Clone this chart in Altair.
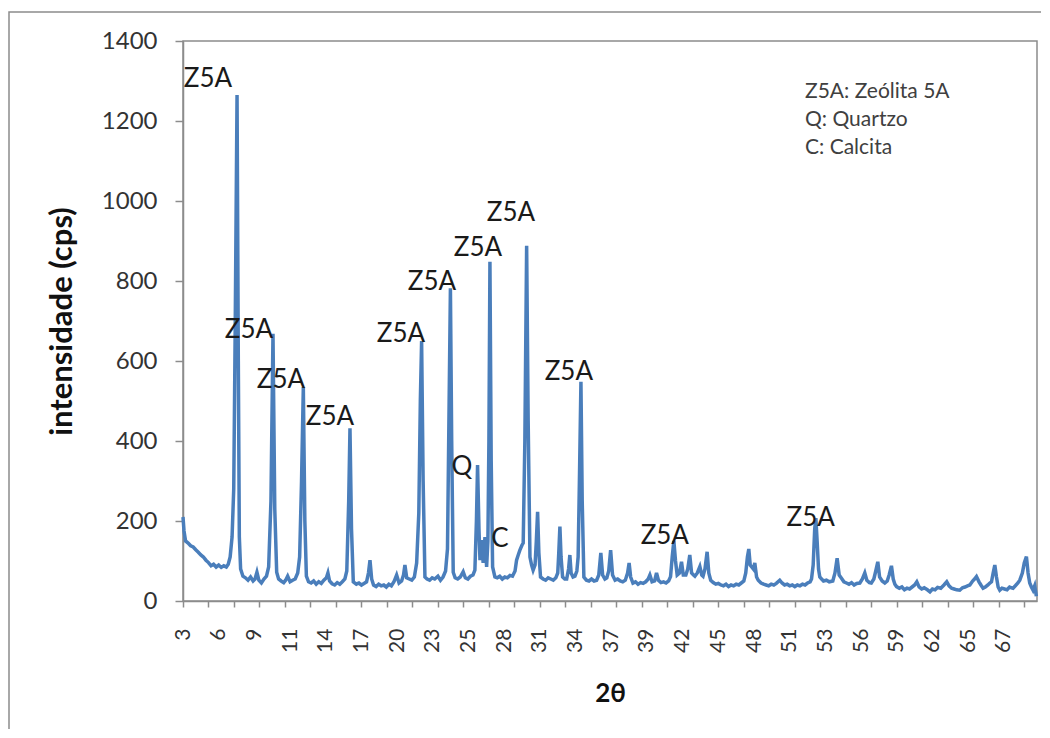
import altair as alt
import pandas as pd

# ---- diffraction pattern (2-theta in degrees, intensity in cps) ----
TWO_THETA = [
    3.00, 3.08, 3.20, 3.40, 3.60, 3.80, 4.00, 4.20, 4.40, 4.60, 4.80, 5.00, 5.20, 5.40, 5.60, 5.80,
    6.00, 6.20, 6.40, 6.55, 6.70, 6.85, 6.98, 7.10, 7.24, 7.34, 7.42, 7.52, 7.70,
    7.90, 8.10, 8.30, 8.50, 8.65, 8.80, 8.95, 9.15, 9.35, 9.55, 9.72, 9.90, 10.06, 10.20, 10.35, 10.50,
    10.70, 10.90, 11.05, 11.21, 11.40, 11.60, 11.80, 12.00, 12.15, 12.30, 12.44, 12.56, 12.68, 12.85,
    13.05, 13.25, 13.45, 13.65, 13.85, 14.05, 14.25, 14.37, 14.50, 14.70, 14.90, 15.10, 15.30, 15.50,
    15.70, 15.85, 16.00, 16.10, 16.22, 16.36,
    16.60, 16.80, 17.00, 17.20, 17.40, 17.55, 17.67, 17.80, 17.95, 18.15, 18.35, 18.55, 18.75, 18.95,
    19.15, 19.35, 19.55, 19.76, 19.95, 20.15, 20.30, 20.41, 20.55, 20.75, 20.95, 21.15, 21.33, 21.50,
    21.62, 21.72, 21.84, 21.98,
    22.15, 22.35, 22.55, 22.75, 23.00, 23.20, 23.40, 23.60, 23.75, 23.88, 23.98, 24.08, 24.20,
    24.35, 24.55, 24.75, 24.98, 25.15, 25.35, 25.55, 25.75, 25.90, 26.02, 26.11, 26.22, 26.30, 26.43,
    26.55, 26.69, 26.82, 26.92, 27.00, 27.08, 27.18, 27.29, 27.47,
    27.65, 27.85, 28.05, 28.25, 28.45, 28.65, 28.85, 29.05, 29.17, 29.30, 29.43, 29.60, 29.69, 29.82,
    29.96, 30.08, 30.22, 30.35, 30.47, 30.62, 30.72, 30.82, 30.92, 31.05,
    31.25, 31.45, 31.65, 31.85, 32.05, 32.25, 32.40, 32.48, 32.57, 32.66, 32.78, 32.95, 33.10, 33.25,
    33.35, 33.45, 33.60, 33.75, 33.90, 34.00, 34.10, 34.22, 34.32, 34.45,
    34.65, 34.85, 35.05, 35.25, 35.45, 35.62, 35.78, 35.92, 36.10, 36.25, 36.40, 36.55, 36.70, 36.90,
    37.10, 37.30, 37.50, 37.70, 37.88, 38.00, 38.12, 38.30, 38.50, 38.70, 38.90, 39.10, 39.30, 39.50,
    39.63, 39.80, 40.00, 40.15, 40.30, 40.50, 40.70, 40.90, 41.10, 41.25, 41.38, 41.51, 41.64, 41.77,
    41.95, 42.11, 42.25, 42.45, 42.60, 42.76, 42.90, 43.05, 43.16, 43.35, 43.55, 43.70, 43.80, 43.95,
    44.12, 44.25, 44.40,
    44.60, 44.80, 45.00, 45.20, 45.40, 45.60, 45.80, 46.00, 46.20, 46.40, 46.60, 46.80, 47.00, 47.15,
    47.28, 47.39, 47.50, 47.60, 47.75, 47.86, 48.00, 48.13,
    48.35, 48.55, 48.75, 48.95, 49.15, 49.35, 49.55, 49.82, 50.00, 50.20, 50.40, 50.60, 50.80, 51.00,
    51.20, 51.40, 51.60, 51.80, 52.00, 52.20, 52.31, 52.44, 52.56, 52.65, 52.75, 52.86, 52.96, 53.10,
    53.25, 53.48, 53.70, 53.98, 54.15, 54.32, 54.48, 54.66, 54.85, 55.05, 55.25, 55.45, 55.65, 55.85,
    56.10, 56.30, 56.49, 56.65, 56.85, 57.00, 57.20, 57.35, 57.51, 57.65, 57.85, 58.06, 58.25, 58.40,
    58.58, 58.72, 58.85, 58.98,
    59.20, 59.40, 59.60, 59.80, 60.00, 60.20, 60.40, 60.57, 60.75, 60.95, 61.15, 61.40, 61.60, 61.80,
    62.00, 62.20, 62.45, 62.70, 62.92, 63.10, 63.30, 63.50, 63.70, 63.94, 64.15, 64.35, 64.55, 64.73,
    64.95, 65.10, 65.25, 65.45, 65.60, 65.77, 65.95, 66.15, 66.30, 66.43, 66.56, 66.69, 66.82, 66.95,
    67.08, 67.25, 67.45, 67.65, 67.85, 68.00, 68.12, 68.30, 68.50, 68.65, 68.85, 69.00, 69.17, 69.30,
    69.43, 69.56, 69.69, 69.82, 69.95,
]
INTENSITY = [
    210, 175, 150, 145, 138, 135, 128, 122, 115, 110, 102, 96, 88, 92, 85, 90,
    84, 88, 85, 92, 110, 160, 280, 700, 1265, 600, 160, 80, 62,
    58, 52, 60, 50, 55, 72, 52, 45, 55, 62, 85, 250, 668, 230, 72, 55,
    50, 46, 52, 62, 48, 52, 55, 70, 110, 300, 535, 200, 62, 48,
    45, 50, 42, 48, 44, 52, 58, 70, 50, 43, 40, 46, 42, 48,
    55, 75, 250, 432, 180, 48,
    42, 45, 40, 44, 48, 70, 102, 55, 40, 36, 42, 38, 40, 35,
    42, 38, 48, 65, 45, 50, 65, 90, 58, 55, 52, 60, 95, 220,
    500, 650, 300, 60,
    55, 52, 58, 55, 62, 52, 60, 75, 130, 500, 782, 400, 72,
    58, 55, 60, 73, 58, 55, 62, 65, 77, 200, 340, 180, 102, 152,
    95, 160, 85, 150, 400, 848, 350, 85, 60,
    58, 62, 55, 60, 58, 64, 62, 75, 102, 115, 127, 140, 145, 400,
    888, 450, 110, 90, 77, 90, 150, 223, 120, 60,
    55, 52, 58, 55, 52, 58, 70, 120, 186, 110, 60, 55, 55, 80,
    115, 70, 60, 62, 75, 110, 300, 548, 250, 60,
    52, 50, 55, 50, 52, 65, 120, 65, 55, 58, 75, 127, 65, 52,
    55, 50, 48, 52, 70, 95, 60, 45, 48, 42, 46, 44, 48, 55,
    65, 48, 50, 70, 52, 46, 48, 45, 50, 61, 110, 150, 100, 65,
    70, 98, 65, 65, 80, 115, 70, 65, 62, 70, 86, 65, 62, 80,
    123, 70, 52,
    46, 42, 44, 40, 38, 42, 36, 40, 38, 42, 40, 45, 50, 70,
    110, 130, 90, 86, 80, 95, 60, 52,
    45, 42, 40, 38, 42, 40, 44, 52, 45, 40, 42, 38, 40, 36,
    40, 38, 42, 40, 45, 48, 55, 90, 180, 207, 150, 80, 60, 55,
    50, 52, 48, 50, 70, 107, 65, 57, 48, 45, 42, 46, 40, 44,
    45, 55, 70, 52, 46, 45, 55, 75, 98, 60, 50, 45, 50, 65,
    88, 55, 42, 36,
    32, 35, 28, 32, 30, 35, 40, 48, 35, 30, 33, 28, 23, 30,
    28, 34, 32, 40, 48, 38, 32, 30, 28, 27, 33, 35, 38, 40,
    50, 55, 61, 48, 40, 32, 35, 40, 45, 48, 70, 90, 60, 35,
    27, 32, 30, 28, 35, 33, 32, 38, 45, 52, 70, 95, 111, 70,
    45, 35, 27, 38, 12,
]

# ---- peak annotations ----
PEAK_TEXT = ["Z5A", "Z5A", "Z5A", "Z5A", "Z5A", "Z5A", "Z5A", "Z5A", "Q", "C", "Z5A", "Z5A", "Z5A"]
PEAK_X = [4.96, 8.18, 10.69, 14.53, 20.10, 22.53, 26.14, 28.73, 24.88, 27.86, 33.27, 40.80, 52.25]
PEAK_Y = [1305, 677, 552, 460, 667, 797, 882, 970, 335, 155, 572, 162, 207]

# ---- key text ----
KEY_LINES = ["Z5A: Zeólita 5A", "Q: Quartzo", "C: Calcita"]

# ---- axes ----
X_LABEL_POS = [3.0, 5.8, 8.6, 11.4, 14.2, 17.0, 19.8, 22.6, 25.4, 28.2, 31.0, 33.8,
               36.6, 39.4, 42.2, 45.0, 47.8, 50.6, 53.4, 56.2, 59.0, 61.8, 64.6, 67.4]
X_LABEL_TEXT = ["3", "6", "9", "11", "14", "17", "20", "23", "25", "28", "31", "34",
                "37", "39", "42", "45", "48", "51", "53", "56", "59", "62", "65", "67"]
X_TICK_POS = list(range(3, 70, 2))
Y_TICKS = [0, 200, 400, 600, 800, 1000, 1200, 1400]

FONT = "Lato"
GRAY = "#8c8c8c"
BLUE = "#4A7EBB"

df = pd.DataFrame({"two_theta": TWO_THETA, "intensity": INTENSITY})
ann = pd.DataFrame({"t": PEAK_TEXT, "x": PEAK_X, "y": PEAK_Y})

x_scale = alt.Scale(domain=[3, 70], nice=False, zero=False)
y_scale = alt.Scale(domain=[0, 1400], nice=False)

label_expr = "[" + ",".join("'" + t + "'" for t in X_LABEL_TEXT) + "][round((datum.value - 3) / 2.8)]"

y_axis = alt.Axis(
    orient="left",
    values=Y_TICKS,
    format="d",
    grid=False,
    ticks=True,
    tickSize=8,
    tickColor=GRAY,
    tickWidth=1.5,
    labelFont=FONT,
    labelFontSize=24,
    labelColor="#333333",
    labelPadding=18,
    domainColor=GRAY,
    domainWidth=1.5,
    title="intensidade (cps)",
    titleFont=FONT,
    titleFontSize=31,
    titleFontWeight="bold",
    titleColor="#111111",
    titleX=-121,
    titleBaseline="middle",
)

line = alt.Chart(df).mark_line(color=BLUE, strokeWidth=3.5).encode(
    x=alt.X(
        "two_theta:Q",
        scale=x_scale,
        axis=alt.Axis(
            orient="bottom",
            values=X_LABEL_POS,
            labelExpr=label_expr,
            ticks=False,
            grid=False,
            labelAngle=-90,
            labelFont=FONT,
            labelFontSize=21,
            labelColor="#333333",
            labelPadding=27,
            domainColor=GRAY,
            domainWidth=1.5,
            title="2θ",
            titleFont=FONT,
            titleFontSize=26,
            titleFontWeight="bold",
            titleColor="#111111",
            titleY=92,
            titleBaseline="middle",
        ),
    ),
    y=alt.Y("intensity:Q", scale=y_scale, axis=y_axis),
)

labels = alt.Chart(ann).mark_text(
    font=FONT, fontSize=26, color="#1a1a1a", align="center", baseline="middle"
).encode(
    x=alt.X(
        "x:Q",
        scale=x_scale,
        axis=alt.Axis(
            orient="bottom",
            values=X_TICK_POS,
            labels=False,
            ticks=True,
            tickSize=6,
            tickColor=GRAY,
            tickWidth=1.5,
            domain=False,
            grid=False,
            title=None,
        ),
    ),
    y=alt.Y("y:Q", scale=y_scale, axis=y_axis),
    text="t:N",
)

key = alt.Chart(pd.DataFrame({"k": [0]})).mark_text(
    font=FONT, fontSize=21, color="#404040", align="left", baseline="middle", lineHeight=28
).encode(
    x=alt.value(622),
    y=alt.value(51),
    text=alt.value(KEY_LINES),
)

frame = alt.Chart(pd.DataFrame({"k": [0]})).mark_rect(
    fill="white", fillOpacity=0, stroke=GRAY, strokeWidth=1.5
).encode(
    x=alt.value(-174), x2=alt.value(900), y=alt.value(-29), y2=alt.value(730)
)

chart = (
    alt.layer(frame, line, labels, key)
    .resolve_scale(x="shared", y="shared")
    .resolve_axis(x="independent", y="shared")
    .properties(
        width=854,
        height=560,
        autosize=alt.AutoSizeParams(type="none"),
        padding={"left": 175, "top": 33, "right": 4, "bottom": 128},
        background="white",
    )
    .configure_view(stroke=GRAY, strokeWidth=1.5)
)

chart.save("out.html", embed_options={"renderer": "svg", "actions": False})
